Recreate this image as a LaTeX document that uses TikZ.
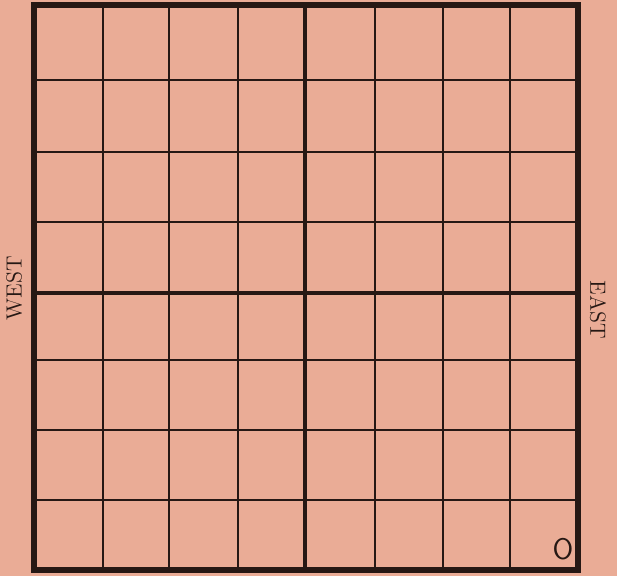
\documentclass[tikz,border=0pt]{standalone}
\definecolor{paper}{RGB}{234,172,150}
\definecolor{ink}{RGB}{38,24,20}
\begin{document}
\begin{tikzpicture}[
        x=0.02cm, y=-0.02cm,
        gridline/.style={draw=ink, line width=1.2pt},
        axisline/.style={draw=ink, line width=2.3pt},
        border/.style={draw=ink, line width=3pt},
        side/.style={text=ink, font=\fontsize{12.5}{14}\selectfont}
    ]
        \fill[paper] (0,0) rectangle (617,576);
        \useasboundingbox (0,0) rectangle (617,576);
        \foreach \x in {103,169,238,375,443,510}
            \draw[gridline] (\x,5) -- (\x,570);
        \foreach \y in {80,152,222,360,430,500}
            \draw[gridline] (34,\y) -- (578,\y);
        \draw[axisline] (305,5) -- (305,570);
        \draw[axisline] (34,293) -- (578,293);
        \draw[border] (34,5) rectangle (578,570);
        \node[side, rotate=90] (west) at (14,288) {WEST};
        \node[side, rotate=-90] (east) at (598,310) {EAST};
        \node[text=ink, font=\sffamily\fontsize{17}{20}\selectfont] (mark) at (563,549) {O};
    \end{tikzpicture}
\end{document}
